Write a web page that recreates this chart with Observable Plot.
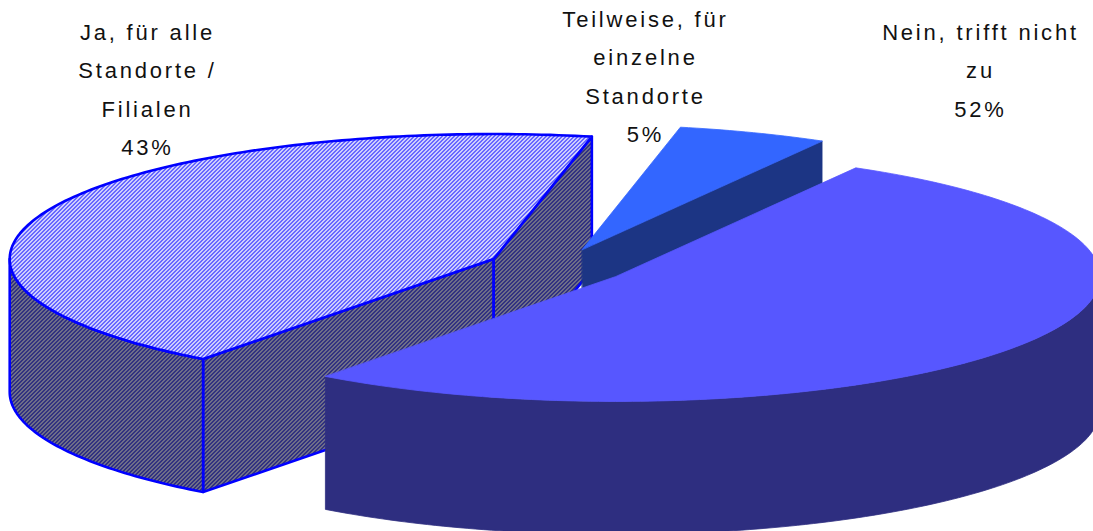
<!DOCTYPE html>
<html><head><meta charset="utf-8">
<script src="https://cdn.jsdelivr.net/npm/d3@7"></script>
<script src="https://cdn.jsdelivr.net/npm/@observablehq/plot@0.6"></script>
<style>html,body{margin:0;padding:0;background:#fff;overflow:hidden;}</style>
</head><body><div id="chart"></div>
<script>
// ---- data ----
const categories = ["Ja, für alle Standorte / Filialen", "Teilweise, für einzelne Standorte", "Nein, trifft nicht zu"];
const shares = [43, 5, 52];
const labelText = ["Ja, für alle\nStandorte /\nFilialen\n43%", "Teilweise, für\neinzelne\nStandorte\n5%", "Nein, trifft nicht\nzu\n52%"];

// ---- layout / style ----
const W = 1093, H = 531;
const geom = {cx: 557, cy: 266, rx: 484, ry: 125, depth: 133, explode: 70, start: 216.9};
const styles = [
  {top: "url(#jaTop)", side: "url(#jaSide)", stroke: "#0000FF", sw: 2.6},
  {top: "#3366FF", side: "#1C3584", stroke: null, sw: 0.8},
  {top: "#5757FF", side: "#2E2E80", stroke: null, sw: 0.8}
];
const labelAnchor = [[147, 12], [645, -1], [980, 12]];

const rad = d => d * Math.PI / 180;
const total = d3.sum(shares);
let acc = geom.start;
const slices = shares.map((v, i) => {
  const a0 = acc, a1 = acc + v / total * 360; acc = a1;
  const m = (a0 + a1) / 2;
  return {i, a0, a1, m,
    ax: geom.cx + geom.explode * Math.sin(rad(m)),
    ay: geom.cy - geom.explode * geom.ry / geom.rx * Math.cos(rad(m))};
});
function rim(s, t, dz = 0) {
  return {x: s.ax + geom.rx * Math.sin(rad(t)), y: s.ay - geom.ry * Math.cos(rad(t)) + dz};
}
function arc(s, t0, t1, dz) {
  const n = Math.max(2, Math.ceil(Math.abs(t1 - t0)));
  return d3.range(n + 1).map(k => rim(s, t0 + (t1 - t0) * k / n, dz));
}
const faces = [];
slices.forEach(s => {
  const st = styles[s.i];
  const apex = {x: s.ax, y: s.ay}, apexB = {x: s.ax, y: s.ay + geom.depth};
  [[s.a0, s.a0 - 90], [s.a1, s.a1 + 90]].forEach(([t, n]) => {
    if (Math.cos(rad(n)) < 0) {
      faces.push({pts: [apex, rim(s, t), rim(s, t, geom.depth), apexB], fill: st.side, stroke: st.stroke || st.side, sw: st.sw});
    }
  });
  for (const k of [0, 1]) {
    const lo = Math.max(s.a0, 90 + 360 * k), hi = Math.min(s.a1, 270 + 360 * k);
    if (hi > lo) faces.push({pts: [...arc(s, lo, hi, 0), ...arc(s, hi, lo, geom.depth)], fill: st.side, stroke: st.stroke || st.side, sw: st.sw});
  }
  faces.push({pts: [apex, ...arc(s, s.a0, s.a1, 0)], fill: st.top, stroke: st.stroke || st.top, sw: st.sw});
});

const labels = labelText.map((t, i) => ({t, lx: labelAnchor[i][0], ly: labelAnchor[i][1]}));

const marks = faces.map(f => Plot.line(f.pts, {
  x: "x", y: "y", fill: f.fill, stroke: f.stroke, strokeWidth: f.sw,
  curve: "linear-closed", strokeLinejoin: "round"
}));
marks.push(Plot.text(labels, {
  x: "lx", y: "ly", text: "t", fontSize: 22, lineHeight: 1.75,
  lineAnchor: "top", textAnchor: "middle", fill: "#111"
}));

const svg = Plot.plot({
  width: W, height: H, margin: 0,
  x: {domain: [0, W], range: [0, W], axis: null},
  y: {domain: [0, H], range: [0, H], axis: null},
  style: "font-family:'Liberation Sans',Arial,sans-serif;letter-spacing:2.8px;background:#fff;overflow:hidden",
  marks
});

// hatch patterns
const ns = "http://www.w3.org/2000/svg";
function makePattern(id, bg, fg) {
  let r = `<pattern id="${id}" width="4" height="4" patternUnits="userSpaceOnUse"><rect width="4" height="4" fill="${bg}"/>`;
  for (let x = 0; x < 4; x++) for (let y = 0; y < 4; y++) if ((x + y) % 4 < 2) r += `<rect x="${x}" y="${y}" width="1" height="1" fill="${fg}"/>`;
  return r + `</pattern>`;
}
const defs = document.createElementNS(ns, "defs");
defs.innerHTML = makePattern("jaTop", "#ffffff", "#3535FF") + makePattern("jaSide", "#8C8C8C", "#14147C");
svg.insertBefore(defs, svg.firstChild);
document.getElementById("chart").appendChild(svg);
</script>
</body></html>
